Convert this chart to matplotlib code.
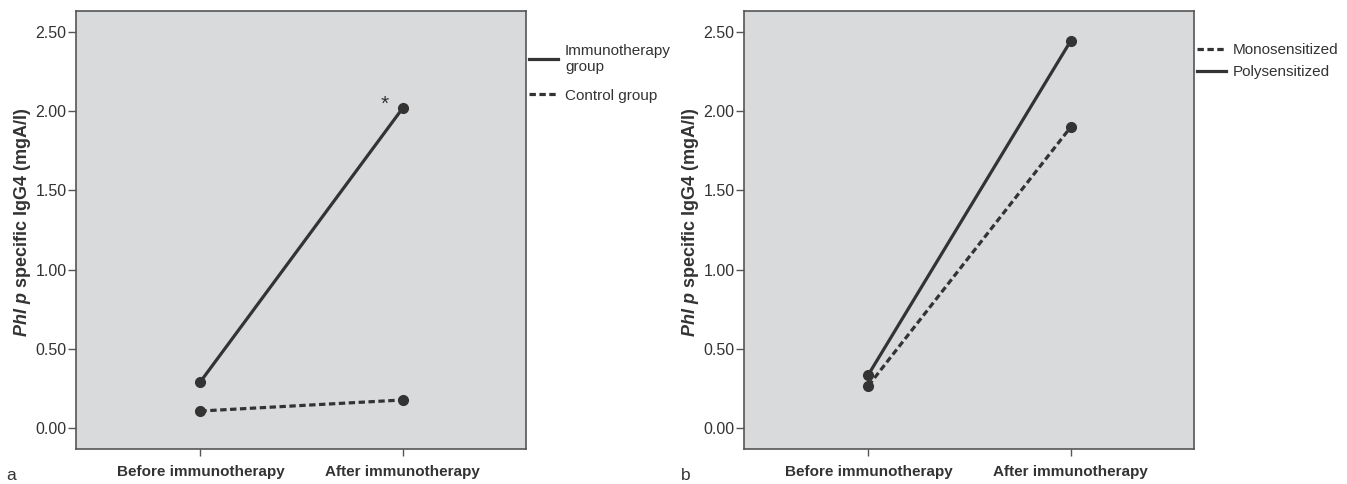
import numpy as np
import matplotlib
matplotlib.use("Agg")
import matplotlib.pyplot as plt

plt.rcParams['font.family'] = ['Liberation Sans', 'DejaVu Sans']
plt.rcParams['mathtext.fontset'] = 'custom'
plt.rcParams['mathtext.it'] = 'Liberation Sans:style=italic:weight=bold'
plt.rcParams['mathtext.rm'] = 'Liberation Sans:weight=bold'
plt.rcParams['mathtext.bf'] = 'Liberation Sans:weight=bold'

# data
timepoints = ["Before immunotherapy", "After immunotherapy"]
immuno_group = [0.29, 2.02]
control_group = [0.105, 0.175]
monosensitized = [0.265, 1.90]
polysensitized = [0.335, 2.445]
yticks = [0.0, 0.5, 1.0, 1.5, 2.0, 2.5]

line_col = '#333333'
face_col = '#d9dadc'
text_col = '#333333'

fig = plt.figure(figsize=(13.47, 4.84), dpi=100)
ax_a = fig.add_axes([76/1347, 1-449.3/484, 450/1347, (449.3-11)/484])
ax_b = fig.add_axes([744/1347, 1-449.3/484, 450/1347, (449.3-11)/484])

x = np.arange(len(timepoints))


def style_axes(ax):
    ax.set_facecolor(face_col)
    ax.set_xlim(-0.615, 1.61)
    ax.set_ylim(-0.137, 2.635)
    ax.set_yticks(yticks)
    ax.set_yticklabels([f"{v:.2f}" for v in yticks], fontsize=11.5, color=text_col)
    ax.set_xticks(x)
    ax.set_xticklabels(timepoints, fontsize=11, fontweight='bold', color=text_col)
    ax.tick_params(axis='both', direction='out', length=5.8, width=1, color='#555555', pad=1)
    ax.tick_params(axis='x', length=5, pad=6.5)
    for s in ax.spines.values():
        s.set_color('#555555')
        s.set_linewidth(1.2)
    ax.set_ylabel(r"$\mathit{Phl\ p}$" + " specific IgG4 (mgA/l)", fontsize=13,
                  fontweight='bold', color=text_col, labelpad=1.5)
    ax.yaxis.label.set_y(0.518)


def plot_series(ax, vals, dashed, label):
    if dashed:
        ln, = ax.plot(x, vals, color=line_col, lw=2.3, dashes=(2.0, 1.1),
                      marker='o', ms=7, mfc=line_col, mec=line_col, label=label)
    else:
        ln, = ax.plot(x, vals, color=line_col, lw=2.3,
                      marker='o', ms=7, mfc=line_col, mec=line_col, label=label)
    return ln


style_axes(ax_a)
style_axes(ax_b)

l1 = plot_series(ax_a, immuno_group, False, "Immunotherapy\ngroup")
l2 = plot_series(ax_a, control_group, True, "Control group")
ax_a.annotate("*", (x[1], immuno_group[1]), xytext=(-13, 3), textcoords='offset points',
              ha='center', va='center', fontsize=15, color=text_col)

m1 = plot_series(ax_b, monosensitized, True, "Monosensitized")
m2 = plot_series(ax_b, polysensitized, False, "Polysensitized")

leg_kw = dict(loc='upper left', bbox_transform=fig.transFigure, frameon=False,
              borderaxespad=0, borderpad=0, handlelength=1.9, handletextpad=0.45,
              fontsize=11, labelcolor=text_col)
la = ax_a.legend(handles=[l1, l2], bbox_to_anchor=(529/1347, 1-44/484),
                 labelspacing=0.95, **leg_kw)
lb = ax_b.legend(handles=[m1, m2], bbox_to_anchor=(1197/1347, 1-43/484),
                 labelspacing=0.55, **leg_kw)
for leg in (la, lb):
    for h in leg.legend_handles:
        h.set_marker('')

fig.text(6/1347, 1-476/484, "a", fontsize=12.5, color=text_col, va='center')
fig.text(681/1347, 1-476/484, "b", fontsize=12.5, color=text_col, va='center')

fig.savefig("out.png", dpi=100, facecolor='white')
